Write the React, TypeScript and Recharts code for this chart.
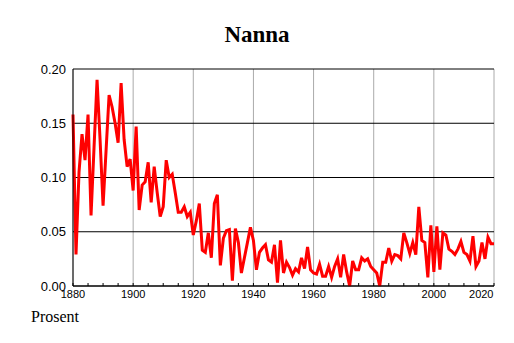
import React from "react";
import { LineChart, Line, XAxis, YAxis, CartesianGrid } from "recharts";

const years: number[] = [];
for (let y = 1880; y <= 2020; y++) years.push(y);

const shares: number[] = [
	0.158, 0.029, 0.105, 0.14, 0.116, 0.158, 0.065, 0.128, 0.19, 0.135,
	0.074, 0.125, 0.176, 0.165, 0.15, 0.132, 0.187, 0.135, 0.11, 0.117,
	0.088, 0.147, 0.07, 0.093, 0.096, 0.114, 0.077, 0.11, 0.086, 0.064,
	0.073, 0.116, 0.1, 0.103, 0.086, 0.068, 0.068, 0.073, 0.064, 0.068,
	0.047, 0.06, 0.076, 0.033, 0.031, 0.049, 0.026, 0.076, 0.084, 0.019,
	0.044, 0.051, 0.052, 0.005, 0.053, 0.04, 0.012, 0.026, 0.04, 0.054,
	0.042, 0.015, 0.031, 0.035, 0.038, 0.024, 0.022, 0.038, 0.003, 0.042,
	0.012, 0.022, 0.017, 0.01, 0.016, 0.013, 0.026, 0.016, 0.036, 0.015,
	0.012, 0.011, 0.02, 0.009, 0.009, 0.018, 0.008, 0.018, 0.025, 0.008,
	0.029, 0.013, 0.0, 0.023, 0.015, 0.015, 0.026, 0.023, 0.025, 0.018,
	0.015, 0.012, 0.0, 0.022, 0.022, 0.035, 0.023, 0.029, 0.028, 0.025,
	0.049, 0.04, 0.03, 0.04, 0.029, 0.073, 0.042, 0.04, 0.008, 0.056,
	0.013, 0.055, 0.015, 0.049, 0.047, 0.034, 0.032, 0.029, 0.034, 0.041,
	0.031, 0.029, 0.023, 0.046, 0.018, 0.023, 0.04, 0.025, 0.045, 0.039,
	0.039,
];

const yTicks = [0, 0.05, 0.1, 0.15, 0.2];
const labelYears = [1880, 1900, 1920, 1940, 1960, 1980, 2000, 2020];
const minorTicks: number[] = [];
for (let y = 1880; y <= 2020; y += 5) minorTicks.push(y);

const data = years.map((year, i) => ({ year, share: shares[i] }));

const axisFont = "'Liberation Sans', Arial, sans-serif";

function YearTick({ x, y, payload }: any) {
	const v = payload.value;
	const showLabel = labelYears.includes(v);
	const last = v === 2020;
	return (
		<g>
			<line x1={x} x2={x} y1={y} y2={y - 3} stroke="#000" />
			{showLabel && (
				<text
					x={last ? x - 0.5 : x}
					y={y + 12}
					textAnchor={last ? "end" : "middle"}
					fontSize={11}
					fontFamily={axisFont}
					fill="#000"
				>
					{v}
				</text>
			)}
		</g>
	);
}

export default function App() {
	return (
		<div
			style={{
				position: "absolute",
				left: 0,
				top: 0,
				width: 514,
				height: 343,
				background: "#fff",
			}}
		>
			<div
				style={{
					position: "absolute",
					left: 0,
					width: 514,
					top: 21,
					textAlign: "center",
					fontFamily: "'Liberation Serif', 'Times New Roman', serif",
					fontWeight: "bold",
					fontSize: 23,
					lineHeight: "28px",
				}}
			>
				Nanna
			</div>
			<LineChart
				width={514}
				height={343}
				data={data}
				margin={{ top: 69, right: 20, left: 13, bottom: 27 }}
			>
				<CartesianGrid
					horizontal={false}
					stroke="#aaa"
					verticalValues={labelYears}
				/>
				<CartesianGrid
					vertical={false}
					stroke="#000"
					horizontalValues={yTicks}
				/>
				<XAxis
					dataKey="year"
					type="number"
					domain={[1880, 2020]}
					ticks={minorTicks}
					interval={0}
					height={30}
					tickSize={0}
					tickMargin={0}
					tickLine={false}
					axisLine={{ stroke: "#000" }}
					tick={<YearTick />}
				/>
				<YAxis
					type="number"
					domain={[0, 0.2]}
					ticks={yTicks}
					width={60}
					tickSize={0}
					tickMargin={7}
					tickLine={false}
					axisLine={{ stroke: "#000" }}
					tickFormatter={(v: number) => v.toFixed(2)}
					tick={{ fontSize: 13, fontFamily: axisFont, fill: "#000" }}
				/>
				<Line
					type="linear"
					dataKey="share"
					stroke="#ff0000"
					strokeWidth={3}
					dot={false}
					isAnimationActive={false}
				/>
			</LineChart>
			<div
				style={{
					position: "absolute",
					left: 31,
					top: 307,
					fontFamily: "'Liberation Serif', 'Times New Roman', serif",
					fontSize: 16,
					lineHeight: "20px",
				}}
			>
				Prosent
			</div>
		</div>
	);
}
